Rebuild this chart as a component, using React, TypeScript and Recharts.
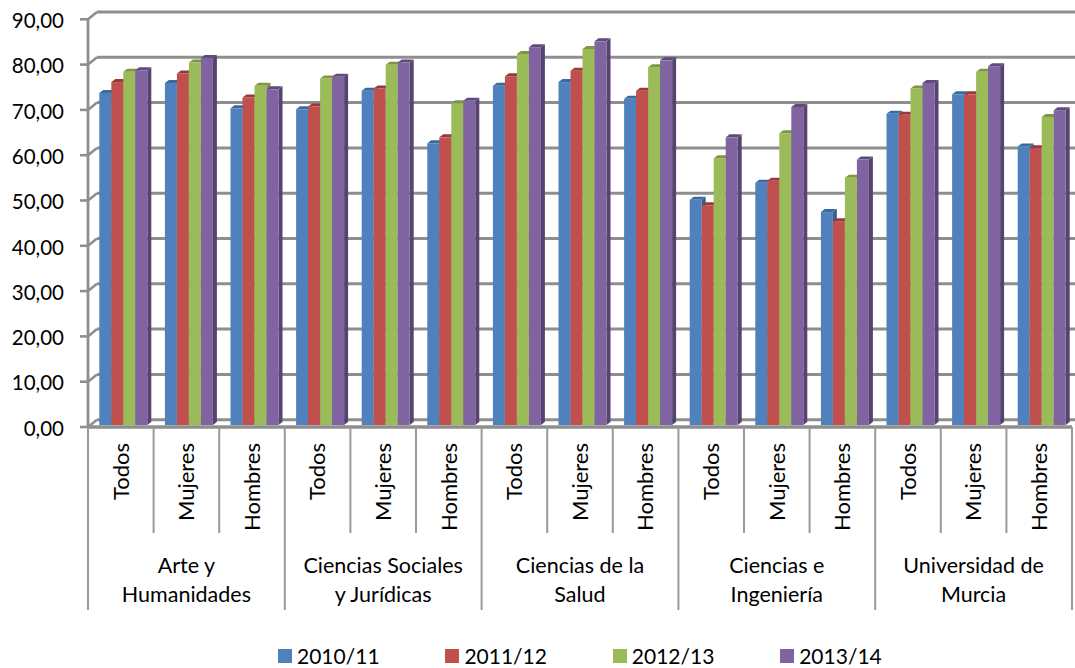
import React from "react";
import { BarChart, Bar, XAxis, YAxis, CartesianGrid, Legend } from "recharts";

const groups = ["Arte y|Humanidades", "Ciencias Sociales|y Jurídicas", "Ciencias de la|Salud", "Ciencias e|Ingeniería", "Universidad de|Murcia"];
const subs = ["Todos", "Mujeres", "Hombres"];
const yTicks = [0, 10, 20, 30, 40, 50, 60, 70, 80, 90];
const s2010 = [73.3, 75.5, 69.9, 69.7, 73.8, 62.2, 74.9, 75.7, 72, 49.7, 53.5, 47, 68.7, 73, 61.5];
const s2011 = [75.7, 77.6, 72.3, 70.3, 74.3, 63.5, 77, 78.2, 73.8, 48.5, 53.9, 45, 68.5, 73, 61.1];
const s2012 = [78, 80, 74.9, 76.5, 79.5, 71, 81.9, 83, 79, 58.9, 64.4, 54.6, 74.3, 78, 68];
const s2013 = [78.3, 81, 74.1, 76.9, 80, 71.6, 83.4, 84.7, 80.5, 63.5, 70.2, 58.6, 75.5, 79.2, 69.5];
const series = [
  { key: "2010/11", values: s2010, front: "#4F81BD", top: "#3A6A9E", side: "#375F8F" },
  { key: "2011/12", values: s2011, front: "#C0504D", top: "#963B39", side: "#8E3A38" },
  { key: "2012/13", values: s2012, front: "#9BBB59", top: "#7C9644", side: "#748D42" },
  { key: "2013/14", values: s2013, front: "#8064A2", top: "#5F4A7C", side: "#57436F" },
];
const data = s2010.map((_, i) => {
  const row: any = { name: subs[i % 3] + i, sub: subs[i % 3], group: groups[Math.floor(i / 3)] };
  series.forEach((s) => (row[s.key] = s.values[i]));
  return row;
});

const W = 1075, H = 668, LEFT = 88, RIGHT = 3, TOP = 19.3, BASE = 427;
const CAT = (W - LEFT - RIGHT) / 15;
const FONT = "Lato, 'Open Sans', sans-serif";
const GRID = "#8E8E8E";

const Bar3D = (p: any) => {
  const { x, y, width: w, height: h, front, top, side } = p;
  const X = x + 3, Y = y - 2, dx = 4, dy = 3;
  return (
    <g>
      <polygon points={`${X + w},${Y} ${X + w + dx},${Y - dy} ${X + w + dx},${Y + h - dy} ${X + w},${Y + h}`} fill={side} />
      <polygon points={`${X},${Y} ${X + dx},${Y - dy} ${X + w + dx},${Y - dy} ${X + w},${Y}`} fill={top} />
      <rect x={X} y={Y} width={w} height={h} fill={front} />
    </g>
  );
};

const CatTick = (p: any) => {
  const { x, index, payload } = p;
  const i = index ?? payload.index;
  const left = x - CAT / 2;
  const lbl = data[i];
  const lines = i % 3 === 1 ? lbl.group.split("|") : [];
  return (
    <g fontFamily={FONT} fill="#000">
      <line x1={left} x2={left} y1={BASE} y2={i % 3 === 0 ? 610 : 533} stroke="#9A9A9A" strokeWidth={2} />
      {i === 14 && <line x1={left + CAT} x2={left + CAT} y1={BASE} y2={610} stroke="#9A9A9A" strokeWidth={2} />}
      <text fontSize={22} transform={`translate(${x + 7.7},443) rotate(-90)`} textAnchor="end">{lbl.sub}</text>
      {lines.map((t: string, k: number) => (
        <text key={k} fontSize={21.5} x={x} y={573 + k * 29} textAnchor="middle">{t}</text>
      ))}
    </g>
  );
};

const gridLine = (p: any) => {
  const { x1, x2, y1 } = p;
  return (
    <g key={p.key ?? y1}>
      <line x1={x1} y1={y1} x2={x1 + 9} y2={y1 - 7.3} stroke={GRID} strokeWidth={2.6} />
      <line x1={x1 + 9} y1={y1 - 7.3} x2={x2 + 9} y2={y1 - 7.3} stroke={GRID} strokeWidth={3} />
    </g>
  );
};

const LegendBox = (p: any) => (
  <div style={{ display: "flex", fontFamily: FONT, fontSize: 21, color: "#000" }}>
    {(p.payload ?? []).map((e: any) => (
      <div key={e.value} style={{ width: 167.4, display: "flex", alignItems: "center" }}>
        <span style={{ width: 14, height: 14, background: e.color, marginRight: 5, display: "inline-block" }} />
        {e.value}
      </div>
    ))}
  </div>
);

export default function App() {
  return (
    <div style={{ position: "absolute", left: 0, top: 0, width: W, height: H, background: "#fff" }}>
      <BarChart width={W} height={H} data={data} margin={{ top: TOP, right: RIGHT, left: 0, bottom: 0 }} barCategoryGap={8.3} barGap={0}>
        <CartesianGrid vertical={false} horizontal={gridLine as any} />
        <XAxis dataKey="name" interval={0} height={H - BASE} tickLine={false} axisLine={{ stroke: GRID, strokeWidth: 3.4 }} tick={<CatTick />} />
        <YAxis width={LEFT} domain={[0, 90]} ticks={yTicks} interval={0} tickSize={8} tickMargin={16}
          axisLine={{ stroke: GRID, strokeWidth: 2.8 }} tickLine={{ stroke: GRID, strokeWidth: 2.6 }}
          tick={{ fontFamily: FONT, fontSize: 20.5, fill: "#000", dy: 1.5 }} tickFormatter={(v: number) => v.toFixed(2).replace(".", ",")} />
        <Legend layout="horizontal" verticalAlign="middle" align="center" content={<LegendBox />}
          wrapperStyle={{ left: 278, top: 643, width: 700, height: 24 }} />
        {series.map((s) => (
          <Bar key={s.key} dataKey={s.key} fill={s.front} isAnimationActive={false}
            shape={(b: any) => <Bar3D {...b} front={s.front} top={s.top} side={s.side} />} />
        ))}
      </BarChart>
    </div>
  );
}
